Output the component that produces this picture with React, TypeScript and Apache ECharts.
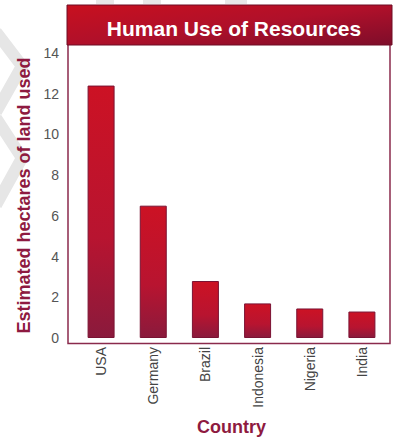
import { useEffect, useRef } from "react";
import * as echarts from "echarts";

// Land footprint per country
const countries = ["USA", "Germany", "Brazil", "Indonesia", "Nigeria", "India"];
const hectares = [12.4, 6.5, 2.8, 1.7, 1.45, 1.3];
const yMin = 0;
const yMax = 14;
const yStep = 2;

const titleText = "Human Use of Resources";
const yName = "Estimated hectares of land used";
const xName = "Country";

const MAROON = "#8e1a40";
const FONT = "'Liberation Sans', Arial, sans-serif";

export default function App() {
  const ref = useRef<HTMLDivElement>(null);

  useEffect(() => {
    if (!ref.current) return;
    const chart = echarts.init(ref.current, undefined, { renderer: "svg" });

    const faint = { stroke: "#e6e6e6", lineWidth: 12, fill: null, lineJoin: "miter" };

    chart.setOption({
      animation: false,
      backgroundColor: "#ffffff",
      textStyle: { fontFamily: FONT },
      title: {
        text: titleText,
        left: 229,
        top: 13,
        textAlign: "center",
        textStyle: { color: "#ffffff", fontSize: 21, fontWeight: "bold", fontFamily: FONT },
      },
      grid: { left: 75, right: 9, top: 53, bottom: 98, containLabel: false },
      xAxis: {
        type: "category",
        data: countries,
        name: xName,
        nameLocation: "middle",
        nameGap: 80,
        nameTextStyle: { color: MAROON, fontSize: 18, fontWeight: "bold", fontFamily: FONT },
        axisLine: { show: false },
        axisTick: { show: false },
        axisLabel: { rotate: 90, margin: 9, color: "#444444", fontSize: 14, fontFamily: FONT },
      },
      yAxis: {
        type: "value",
        min: yMin,
        max: yMax,
        interval: yStep,
        offset: 7,
        name: yName,
        nameLocation: "middle",
        nameGap: 32,
        nameTextStyle: { color: MAROON, fontSize: 18, fontWeight: "bold", fontFamily: FONT },
        axisLine: { show: false },
        axisTick: { show: false },
        splitLine: { show: false },
        axisLabel: { margin: 9, color: "#555555", fontSize: 14, fontFamily: FONT },
      },
      graphic: [
        // faint chevron watermark behind the left margin
        { type: "polyline", z: -10, shape: { points: [[-4, 32], [22, 66], [-4, 112]] }, style: faint },
        { type: "polyline", z: -10, shape: { points: [[-4, 118], [22, 158], [-4, 205]] }, style: faint },
        { type: "rect", z: -10, shape: { x: 96, y: 0, width: 18, height: 4 }, style: { fill: "#e8e8e8" } },
        { type: "rect", z: -10, shape: { x: 143, y: 0, width: 18, height: 4 }, style: { fill: "#e8e8e8" } },
        { type: "rect", z: -10, shape: { x: 225, y: 0, width: 22, height: 4 }, style: { fill: "#e8e8e8" } },
        // plot frame
        {
          type: "rect",
          z: 1,
          shape: { x: 68, y: 44, width: 322, height: 299.5 },
          style: { fill: null, stroke: "#8a2a4c", lineWidth: 1.5 },
        },
        // title banner
        {
          type: "rect",
          z: 2,
          shape: { x: 67, y: 5, width: 325, height: 40 },
          style: {
            fill: new echarts.graphic.LinearGradient(0, 0, 1, 1, [
              { offset: 0, color: "#c8101f" },
              { offset: 0.5, color: "#b0102a" },
              { offset: 1, color: "#7e0d2a" },
            ]),
            stroke: "#6e0c24",
            lineWidth: 1,
          },
        },
      ],
      series: [
        {
          type: "bar",
          data: hectares,
          barWidth: 27,
          z: 3,
          itemStyle: {
            color: new echarts.graphic.LinearGradient(0, 0, 0, 1, [
              { offset: 0, color: "#cc1224" },
              { offset: 0.6, color: "#b81430" },
              { offset: 1, color: "#8a1a3c" },
            ]),
            borderColor: "#7a1333",
            borderWidth: 1,
          },
        },
      ],
    });

    return () => chart.dispose();
  }, []);

  return (
    <div
      ref={ref}
      style={{ position: "absolute", left: 0, top: 0, width: 397, height: 441 }}
    />
  );
}
